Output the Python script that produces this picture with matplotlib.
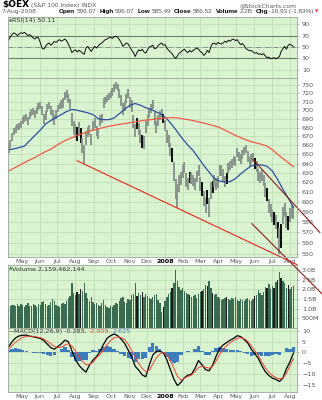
import numpy as np
import pandas as pd
import matplotlib
matplotlib.use('Agg')
import matplotlib.pyplot as plt
from matplotlib.ticker import FixedLocator, FuncFormatter, NullLocator

plt.rcParams['font.family'] = ['DejaVu Sans']

start = pd.Timestamp('2007-04-09')

# three-day bars for $OEX (high / low)
price_low = [
    652, 657, 665, 671, 674, 677, 677, 679, 684, 686,
    688, 683, 690, 693, 695, 691, 696, 700, 702, 695,
    684, 689, 698, 702, 695, 690, 683, 690, 698, 701,
    702, 703, 712, 715, 708, 701, 682, 673, 668, 665,
    670, 662, 652, 640, 660, 669, 672, 660, 676, 680,
    670, 667, 682, 685, 703, 707, 710, 712, 714, 717,
    722, 726, 723, 714, 705, 694, 699, 708, 715, 703,
    698, 679, 669, 678, 671, 663, 657, 656, 674, 682,
    692, 697, 702, 683, 674, 682, 689, 692, 685, 676,
    662, 658, 648, 642, 622, 603, 594, 610, 617, 625,
    630, 615, 612, 619, 618, 616, 612, 620, 627, 611,
    606, 596, 589, 598, 585, 603, 609, 615, 612, 614,
    627, 627, 622, 615, 618, 630, 633, 635, 638, 637,
    647, 643, 640, 645, 649, 651, 642, 636, 640, 642,
    634, 631, 622, 619, 622, 616, 605, 601, 589, 585,
    580, 577, 573, 565, 550, 555, 578, 585, 574, 572,
    580, 584, 583]
price_high = [
    662, 666, 674, 679, 682, 684, 685, 687, 692, 694,
    696, 692, 698, 701, 703, 700, 704, 708, 710, 705,
    696, 699, 707, 710, 705, 700, 694, 700, 706, 709,
    712, 714, 722, 724, 719, 713, 697, 688, 684, 681,
    686, 679, 668, 660, 676, 681, 683, 673, 688, 691,
    682, 678, 694, 696, 715, 716, 718, 720, 723, 727,
    731, 734, 732, 725, 718, 708, 711, 719, 725, 716,
    712, 694, 684, 691, 685, 677, 672, 670, 688, 694,
    703, 707, 712, 698, 688, 694, 699, 702, 696, 689,
    677, 672, 663, 657, 642, 624, 618, 628, 631, 638,
    642, 630, 625, 631, 630, 628, 625, 632, 639, 626,
    620, 611, 604, 612, 604, 620, 622, 628, 625, 627,
    639, 638, 634, 627, 630, 641, 643, 645, 648, 647,
    657, 653, 650, 655, 658, 660, 654, 647, 650, 652,
    646, 643, 634, 631, 633, 628, 619, 614, 603, 598,
    592, 590, 587, 580, 574, 578, 595, 599, 590, 586,
    594, 597, 596]
dark_bars = [39, 41, 73, 76, 88, 93, 103, 110, 113, 116, 124, 140, 147, 151, 153, 155, 159]

volume_b = [
    1.10, 1.15, 1.20, 1.18, 1.12, 1.22, 1.15, 1.25, 1.18, 1.10,
    1.20, 1.28, 1.15, 1.12, 1.22, 1.18, 1.10, 1.25, 1.20, 1.35,
    1.40, 1.22, 1.15, 1.20, 1.32, 1.50, 1.38, 1.20, 1.15, 1.10,
    1.22, 1.30, 1.25, 1.40, 1.55, 1.65, 2.30, 1.80, 1.70, 1.85,
    1.75, 2.00, 1.90, 2.30, 1.80, 1.55, 1.40, 1.60, 1.35, 1.25,
    1.30, 1.20, 1.15, 1.30, 1.45, 1.20, 1.10, 1.05, 1.15, 1.10,
    1.20, 1.30, 1.25, 1.40, 1.55, 1.60, 1.35, 1.30, 1.50, 1.45,
    1.70, 1.75, 2.30, 1.65, 1.80, 1.70, 1.85, 1.60, 1.75, 1.65,
    1.55, 1.50, 1.60, 1.70, 1.75, 1.45, 1.30, 0.85, 1.10, 1.40,
    1.60, 1.75, 1.85, 2.05, 2.30, 3.00, 2.40, 2.10, 1.95, 2.05,
    1.90, 1.80, 1.75, 1.70, 1.60, 1.65, 1.70, 1.55, 1.75, 1.85,
    1.90, 2.00, 2.20, 2.15, 2.40, 2.05, 1.80, 1.70, 1.75, 1.60,
    1.55, 1.45, 1.50, 1.55, 1.60, 1.50, 1.45, 1.55, 1.50, 1.60,
    1.45, 1.40, 1.50, 1.45, 1.40, 1.50, 1.55, 1.45, 1.40, 1.50,
    1.65, 1.70, 1.95, 1.80, 1.70, 1.85, 2.10, 2.05, 2.25, 2.00,
    2.15, 2.05, 2.35, 2.50, 2.90, 2.60, 2.40, 2.30, 2.05, 2.20,
    2.00, 2.10, 2.16]

rsi14 = [
    62, 68, 72, 75, 73, 70, 73, 75, 74, 76,
    73, 70, 72, 69, 66, 64, 67, 66, 58, 48,
    46, 51, 55, 57, 53, 56, 60, 58, 61, 63,
    60, 62, 64, 61, 55, 48, 40, 43, 45, 41,
    44, 42, 39, 37, 48, 51, 46, 42, 47, 51,
    48, 52, 55, 57, 60, 63, 64, 66, 67, 65,
    68, 69, 67, 63, 58, 51, 54, 57, 55, 50,
    44, 40, 33, 40, 45, 43, 46, 41, 39, 45,
    50, 51, 53, 47, 48, 52, 55, 57, 53, 54,
    48, 44, 41, 38, 33, 30, 34, 39, 41, 44,
    46, 42, 40, 44, 41, 44, 46, 48, 46, 42,
    40, 35, 38, 44, 40, 50, 56, 57, 54, 58,
    56, 55, 57, 60, 58, 62, 60, 63, 64, 61,
    63, 58, 54, 56, 52, 47, 45, 43, 44, 41,
    39, 40, 37, 38, 36, 38, 34, 31, 32, 29,
    30, 31, 29, 31, 33, 42, 47, 51, 46, 53,
    55, 53, 50.11]

# six-day samples for MACD(12,26,9)
macd_line = [
    2.6, 5.0, 6.8, 7.7, 8.0, 8.1, 7.6, 7.3, 6.9, 6.6,
    5.5, 3.9, 2.2, 1.5, 2.7, 4.0, 5.7, 5.0, 0.8, -3.3,
    -6.0, -7.8, -9.2, -5.9, -3.6, -2.0, 0.5, 3.8, 6.6, 7.8,
    8.6, 7.8, 6.2, 4.2, 1.1, -2.0, -6.5, -8.3, -10.5, -11.4,
    -6.0, -1.2, 0.3, 0.6, -0.2, -3.5, -8.0, -12.5, -15.5, -14.0,
    -11.8, -10.6, -10.2, -7.5, -3.8, -5.8, -8.0, -8.6, -6.0, -1.8,
    1.7, 3.5, 4.6, 5.7, 6.6, 7.8, 7.4, 6.0, 4.4, 1.5,
    -0.6, -2.8, -6.2, -9.0, -10.8, -12.0, -12.6, -13.6, -12.0, -7.6,
    -4.4, -0.283]
macd_signal = [
    1.5, 3.2, 4.8, 6.0, 7.0, 7.5, 7.6, 7.5, 7.2, 6.9,
    6.3, 5.2, 4.0, 2.8, 2.3, 2.4, 3.4, 4.1, 3.0, 0.8,
    -2.0, -4.2, -5.8, -5.6, -4.6, -2.5, -1.0, 1.2, 3.6, 5.5,
    6.8, 7.2, 6.9, 6.0, 3.8, 1.0, -2.2, -5.2, -7.5, -9.0,
    -8.3, -5.5, -2.5, -0.8, 0.0, -1.2, -3.8, -7.5, -11.2, -13.0,
    -12.0, -11.2, -10.6, -9.0, -7.0, -6.5, -6.9, -7.4, -6.5, -4.0,
    -1.0, 1.5, 3.2, 4.5, 5.6, 6.5, 6.9, 6.4, 5.2, 3.0,
    0.8, -1.5, -4.5, -7.2, -9.2, -10.8, -11.8, -12.4, -12.0, -9.8,
    -6.2, -2.909]

# nine-day samples of the moving averages
ma50 = [
    655, 656, 657.5, 659, 665, 671, 677, 684, 688, 691.5,
    695, 698.5, 701, 700, 698.5, 697, 695, 690, 689, 689,
    691, 696, 701, 706, 708, 706, 703, 701, 698, 695,
    690, 683, 675, 667, 660, 654, 646, 638, 631, 624,
    621.5, 620.5, 621, 624, 629, 633.5, 637.5, 639, 638.5, 637,
    632, 623, 613, 604, 594.55]
ma200 = [
    632, 635, 638, 641, 644, 646.5, 650, 653, 655.5, 659.5,
    663, 666, 668.5, 671, 673, 675, 677, 678.5, 680, 681.5,
    682.5, 683.5, 684.5, 685.5, 686.5, 687.5, 688.5, 689, 690, 690.5,
    691, 691.5, 691, 690, 689, 688, 686.5, 685, 683.5, 682,
    680, 677, 674, 671, 668.5, 666, 664, 662.5, 661, 659,
    655, 650, 645.5, 641, 636.56]

# hand-drawn trend lines: (date, price) end points
trend_lines = [
    (('2007-08-04', 643), ('2008-08-13', 540), '#e8281e'),
    (('2008-05-28', 578.5), ('2008-09-25', 514), '#8b1c1c'),
    (('2008-05-30', 644.4), ('2008-09-21', 570), '#8b1c1c'),
]

price_ticks = list(range(550, 740, 10))
rsi_ticks = [10, 30, 50, 70, 90]
vol_ticks = [0.5, 1.0, 1.5, 2.0, 2.5, 3.0]
vol_labels = ['500M', '1.0B', '1.5B', '2.0B', '2.5B', '3.0B']
macd_ticks = [-15, -10, -5, 0, 5, 10]

quote_labels = ['Open', 'High', 'Low', 'Close', 'Volume', 'Chg']
quote_values = ['596.07', '596.07', '585.49', '586.52', '2.2B', '-10.93 (-1.83%)']

bar_dates = start + pd.to_timedelta(np.arange(len(price_high)) * 3, unit='D')
macd_dates = start + pd.to_timedelta(np.arange(len(macd_line)) * 6, unit='D')
ma_dates = start + pd.to_timedelta(np.arange(len(ma50)) * 9, unit='D')
months = pd.date_range('2007-05-01', '2008-08-01', freq='MS')
month_labels = ['2008' if m.month == 1 else m.strftime('%b') for m in months]

W, H = 322, 400
BG = '#daf4d1'
GRID = '#bcdab3'
fig = plt.figure(figsize=(W / 100, H / 100), dpi=100)
fig.patch.set_facecolor('white')


def panel(top, bottom):
    ax = fig.add_axes([8 / W, 1 - bottom / H, 289 / W, (bottom - top) / H])
    ax.set_facecolor(BG)
    for s in ax.spines.values():
        s.set_color('#9aa69a')
        s.set_linewidth(0.6)
    ax.yaxis.tick_right()
    ax.tick_params(axis='y', labelsize=4.6, labelcolor='#555555', length=1.5,
                   width=0.4, color='#888888', pad=2)
    ax.set_xticks(months)
    ax.tick_params(axis='x', length=0, labelbottom=False, labelsize=4.6,
                   labelcolor='#555555', pad=1.5)
    ax.grid(True, color=GRID, linewidth=0.5)
    ax.set_axisbelow(True)
    ax.set_xlim(pd.Timestamp('2007-04-08'), pd.Timestamp('2008-08-13'))
    return ax


ax_rsi = panel(17, 78)
ax_vol = panel(265, 328)
ax_macd = panel(328, 392)
ax_px = panel(78, 257)
ax_px.set_zorder(5)

# RSI
ax_rsi.set_ylim(-5, 103)
ax_rsi.set_yticks(rsi_ticks)
ax_rsi.axhline(70, color='#6d806d', lw=0.8)
ax_rsi.axhline(30, color='#6d806d', lw=0.8)
ax_rsi.axhline(50, color='#7c8c7c', lw=0.6, ls='-.')
ax_rsi.plot(bar_dates, rsi14, color='black', lw=0.65)

# price bars and moving averages
colors = ['black' if i in dark_bars else '#86928a' for i in range(len(price_high))]
ax_px.vlines(bar_dates, price_low, price_high, colors=colors, lw=1.35)
ax_px.plot(ma_dates, ma50, color='#2e4f9e', lw=0.9)
ax_px.plot(ma_dates, ma200, color='#f05a48', lw=0.9)
ax_px.set_yscale('log')
ax_px.set_ylim(547, 739)
ax_px.yaxis.set_major_locator(FixedLocator(price_ticks))
ax_px.yaxis.set_major_formatter(FuncFormatter(lambda v, p: '%d' % round(v)))
ax_px.yaxis.set_minor_locator(NullLocator())
ax_px.tick_params(axis='x', labelbottom=True)
ax_px.set_xticklabels(month_labels)
for (d1, p1), (d2, p2), c in trend_lines:
    ax_px.plot([pd.Timestamp(d1), pd.Timestamp(d2)], [p1, p2], color=c, lw=0.8, clip_on=False)

# volume
vcolors = ['#1c1c1c' if i in dark_bars else '#3b6b51' for i in range(len(volume_b))]
ax_vol.bar(bar_dates, volume_b, width=2.4, color=vcolors, linewidth=0)
ax_vol.set_ylim(0, 3.25)
ax_vol.set_yticks(vol_ticks)
ax_vol.set_yticklabels(vol_labels)

# MACD
hist = np.array(macd_line) - np.array(macd_signal)
ax_macd.bar(macd_dates, hist, width=5.6, color='#3d7dbd', linewidth=0)
ax_macd.plot(macd_dates, macd_line, color='black', lw=0.9)
ax_macd.plot(macd_dates, macd_signal, color='#ee4433', lw=0.7)
ax_macd.set_ylim(-18.5, 11.4)
ax_macd.set_yticks(macd_ticks)
ax_macd.tick_params(axis='x', labelbottom=True)
ax_macd.set_xticklabels(month_labels)

for ax in (ax_px, ax_macd):
    for lab in ax.get_xticklabels():
        if lab.get_text() == '2008':
            lab.set_fontweight('bold')
            lab.set_color('black')


def put(x, y, s, size=4.6, color='#555555', weight='normal', ha='left', family=None):
    t = fig.text(x / W, 1 - y / H, s, fontsize=size, color=color,
                 fontweight=weight, ha=ha, va='center')
    if family:
        t.set_family(family)
    return t


# header
put(2, 5, '$OEX', size=6.5, color='black', weight='bold')
put(31, 5.5, '(S&P 100 Index) INDX', size=4.3)
put(297, 5.5, '@StockCharts.com', size=4.3, ha='right')
put(2, 11.5, '7-Aug-2008', size=4.3)

fig.canvas.draw()
rend = fig.canvas.get_renderer()
hdr = 'Liberation Sans'
x = 59
for lab, val in zip(quote_labels, quote_values):
    t = put(x, 11.5, lab, size=4.6, color='black', weight='bold', family=hdr)
    x += t.get_window_extent(rend).width + 1.2
    t = put(x, 11.5, val, size=4.6, family=hdr)
    x += t.get_window_extent(rend).width + 3.2
put(x - 2.2, 11.5, '\u25bc', size=3.2, color='#dd2222')

# panel legends
put(8.5, 20.5, '\u25b2', size=3.2, color='#446644')
put(12, 20.5, 'RSI(14) 50.11', color='#333333')
put(8.5, 81.5, '\u25b2', size=3.2, color='#446644')
put(12, 81.5, '$OEX (Daily) 586.52', color='#333333')
put(8.5, 87, '\u2014', color='#2e4f9e')
put(14, 87, 'MA(50) 594.55', color='#2e4f9e')
put(8.5, 92.5, '\u2014', color='#f05a48')
put(14, 92.5, 'MA(200) 636.56', color='#f05a48')
put(8.5, 269, '\u25b2', size=3.2, color='#446644')
put(12, 269, 'Volume 2,159,462,144', color='#333333')
put(8.5, 331.5, '\u2014', color='#333333')
t = put(14, 331.5, 'MACD(12,26,9) -0.283,', color='#333333')
x = 14 + t.get_window_extent(rend).width + 2
t = put(x, 331.5, '-2.909,', color='#ee4433')
x += t.get_window_extent(rend).width + 2
put(x, 331.5, '2.625', color='#3d7dbd')

fig.savefig('out.png', dpi=100)
